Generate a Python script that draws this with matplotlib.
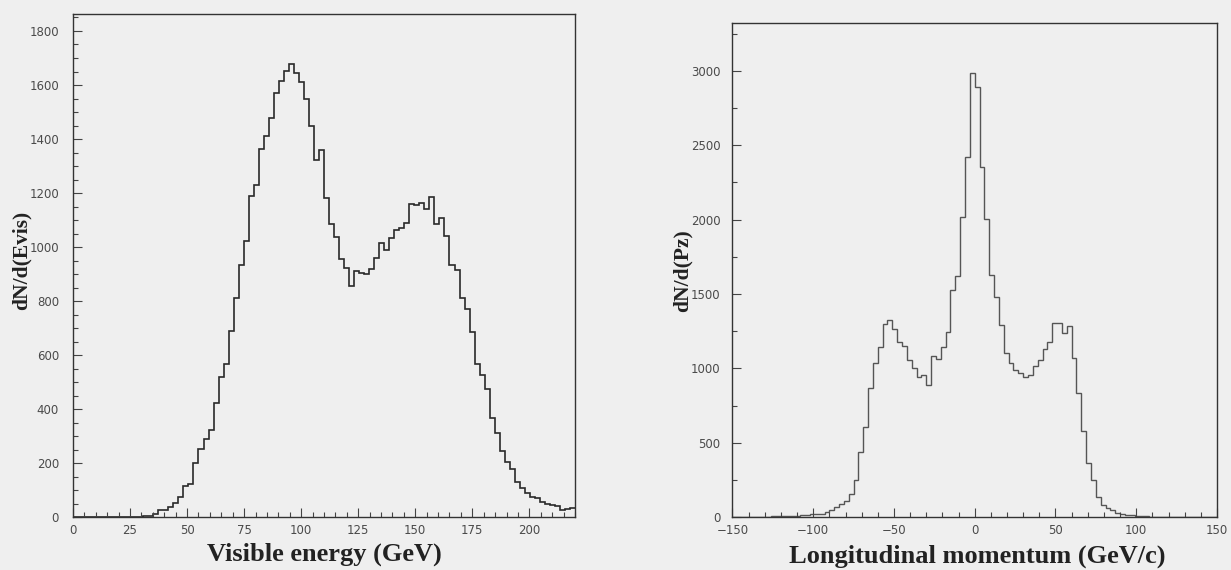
import numpy as np
import matplotlib.pyplot as plt
from matplotlib.ticker import MultipleLocator

# Visible energy histogram: 100 bins from 0 to 220 GeV
evis_range = (0, 220)
evis_counts = [
    0, 0, 0, 0, 0, 0, 0, 0, 0, 0,
    0, 1, 1, 2, 3, 5, 11, 27, 28, 37,
    54, 75, 116, 125, 200, 252, 289, 324, 422, 519,
    567, 688, 812, 934, 1024, 1189, 1229, 1362, 1413, 1479,
    1569, 1616, 1653, 1677, 1643, 1612, 1549, 1448, 1322, 1358,
    1182, 1087, 1036, 957, 921, 856, 913, 903, 900, 918,
    958, 1015, 990, 1032, 1064, 1070, 1088, 1160, 1156, 1164,
    1140, 1184, 1086, 1106, 1040, 935, 915, 810, 772, 685,
    568, 528, 473, 366, 311, 247, 206, 177, 132, 109,
    89, 76, 72, 56, 50, 45, 40, 28, 29, 36,
]

# Longitudinal momentum histogram: 100 bins from -150 to 150 GeV/c
pz_range = (-150, 150)
pz_counts = [
    3, 3, 4, 3, 4, 5, 5, 4, 6, 7,
    8, 7, 9, 10, 14, 13, 20, 24, 22, 35,
    50, 66, 90, 110, 156, 253, 438, 608, 866, 1038,
    1141, 1300, 1322, 1265, 1180, 1150, 1056, 1000, 944, 956,
    888, 1086, 1060, 1143, 1244, 1527, 1622, 2019, 2420, 2986,
    2892, 2353, 2006, 1630, 1480, 1290, 1105, 1038, 992, 968,
    944, 956, 1016, 1056, 1128, 1177, 1303, 1303, 1240, 1285,
    1073, 835, 581, 365, 250, 139, 80, 60, 49, 27,
    22, 16, 14, 10, 9, 6, 5, 5, 4, 3,
    3, 2, 2, 2, 1, 1, 1, 0, 0, 0,
]

bg = '#efefef'
tick_color = '#4a4a4a'
label_font = ['Liberation Serif', 'DejaVu Serif']

fig = plt.figure(figsize=(12.31, 5.70), dpi=100, facecolor=bg)
ax1 = fig.add_axes([0.0593, 0.0925, 0.4078, 0.883])
ax2 = fig.add_axes([0.595, 0.0925, 0.3936, 0.867])


def style_axes(ax, xmajor, xminor, ymajor, yminor):
    ax.set_facecolor(bg)
    for s in ax.spines.values():
        s.set_color('#333333')
        s.set_linewidth(1.0)
    ax.xaxis.set_major_locator(MultipleLocator(xmajor))
    ax.xaxis.set_minor_locator(MultipleLocator(xminor))
    ax.yaxis.set_major_locator(MultipleLocator(ymajor))
    ax.yaxis.set_minor_locator(MultipleLocator(yminor))
    ax.tick_params(which='both', direction='in', top=False, right=False,
                   color='#444444', width=0.8, labelcolor=tick_color,
                   labelsize=8.5)
    ax.tick_params(which='major', length=6.5)
    ax.tick_params(which='minor', length=3.6)
    ax.tick_params(axis='x', pad=5)
    ax.tick_params(axis='y', pad=10)


# Left: visible energy
edges1 = np.linspace(evis_range[0], evis_range[1], len(evis_counts) + 1)
ax1.stairs(evis_counts, edges1, baseline=None, color='#2a2a2a', linewidth=1.2)
ax1.set_xlim(*evis_range)
ax1.set_ylim(0, 1863)
style_axes(ax1, 25, 5, 200, 50)
ax1.set_xlabel('Visible energy (GeV)', fontsize=19, fontweight='bold',
               family=label_font, color='#222222')
ax1.set_ylabel('dN/d(Evis)', fontsize=15.5, fontweight='bold',
               family=label_font, color='#222222')
ax1.xaxis.set_label_coords(0.5, -0.05)
ax1.yaxis.set_label_coords(-0.082, 0.51)

# Right: longitudinal momentum
edges2 = np.linspace(pz_range[0], pz_range[1], len(pz_counts) + 1)
ax2.stairs(pz_counts, edges2, baseline=None, color='#555555', linewidth=1.0)
ax2.set_xlim(*pz_range)
ax2.set_ylim(0, 3320)
style_axes(ax2, 50, 10, 500, 250)
ax2.tick_params(axis='y', pad=8.5)
ax2.set_xlabel('Longitudinal momentum (GeV/c)', fontsize=19, fontweight='bold',
               family=label_font, color='#222222')
ax2.set_ylabel('dN/d(Pz)', fontsize=15.5, fontweight='bold',
               family=label_font, color='#222222')
ax2.xaxis.set_label_coords(0.505, -0.055)
ax2.yaxis.set_label_coords(-0.082, 0.5)

fig.savefig('out.png', dpi=100, facecolor=bg)
